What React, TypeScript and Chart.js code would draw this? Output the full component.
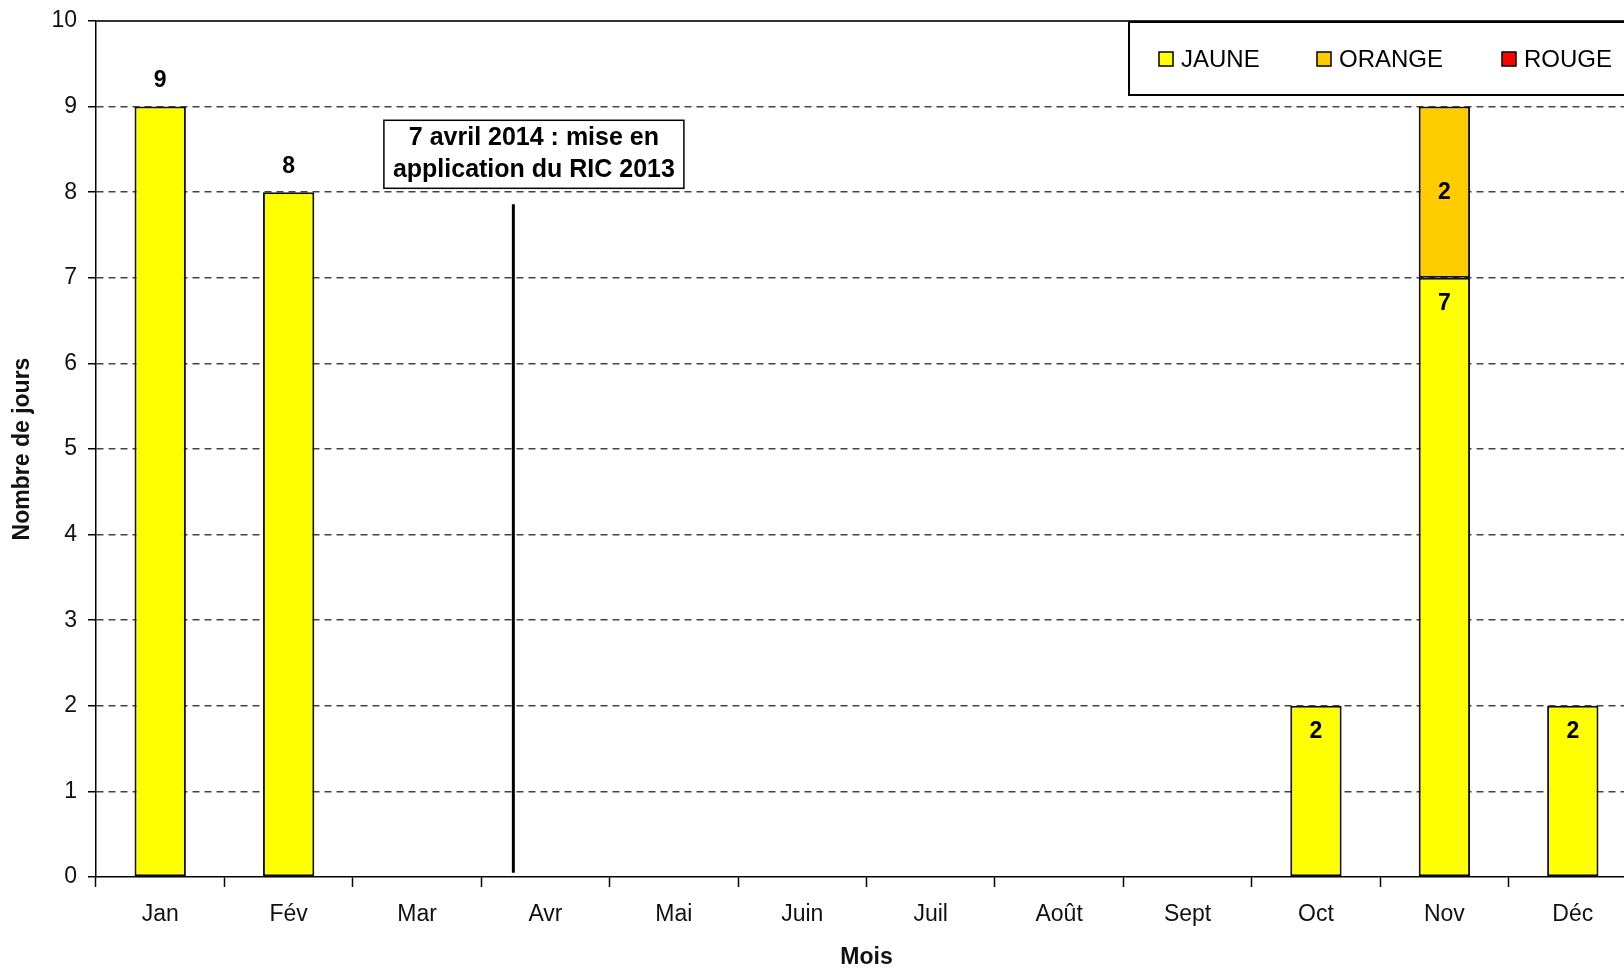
import React, { useEffect, useRef } from "react";
import { Chart, registerables } from "chart.js";

Chart.register(...registerables);

const months = ["Jan", "Fév", "Mar", "Avr", "Mai", "Juin", "Juil", "Août", "Sept", "Oct", "Nov", "Déc"];
const jaune = [9, 8, 0, 0, 0, 0, 0, 0, 0, 2, 7, 2];
const orange = [0, 0, 0, 0, 0, 0, 0, 0, 0, 0, 2, 0];
const rouge = [0, 0, 0, 0, 0, 0, 0, 0, 0, 0, 0, 0];
const labelsAboveMonths = ["Jan", "Fév"];
const yTicks = [0, 1, 2, 3, 4, 5, 6, 7, 8, 9, 10];

const annotationLines = ["7 avril 2014 : mise en", "application du RIC 2013"];
const markerX = 2.75; // 7 April within category axis
const markerYTop = 7.86;
const markerYBottom = 0.05;
const annotationCenterX = 2.91;
const annotationTopY = 8.84;

const seriesNames = ["JAUNE", "ORANGE", "ROUGE"];
const seriesColors = ["#FFFF00", "#FFCC00", "#FF0000"];

const FONT = "Arial, 'Liberation Sans', sans-serif";

const overlayPlugin = {
  id: "overlay",
  afterDatasetsDraw(chart: any) {
    const ctx = chart.ctx;
    const x = chart.scales.x;
    const y = chart.scales.y;
    const area = chart.chartArea;

    // top border of plot area
    ctx.save();
    ctx.strokeStyle = "#333";
    ctx.lineWidth = 2;
    ctx.beginPath();
    ctx.moveTo(area.left, area.top);
    ctx.lineTo(area.right, area.top);
    ctx.stroke();

    // data labels
    ctx.fillStyle = "#000";
    ctx.font = `bold 23px ${FONT}`;
    ctx.textAlign = "center";
    ctx.textBaseline = "middle";
    chart.data.datasets.forEach((ds: any, di: number) => {
      const meta = chart.getDatasetMeta(di);
      meta.data.forEach((el: any, i: number) => {
        const v = ds.data[i];
        if (!v) return;
        let ly;
        if (di === 0) {
          ly = labelsAboveMonths.includes(months[i]) ? el.y - 26 : el.y + 26;
        } else {
          ly = (el.y + el.base) / 2;
        }
        ctx.fillText(String(v), el.x, ly);
      });
    });

    // vertical marker line
    const mx = x.getPixelForValue(markerX);
    ctx.strokeStyle = "#000";
    ctx.lineWidth = 3;
    ctx.beginPath();
    ctx.moveTo(mx, y.getPixelForValue(markerYTop));
    ctx.lineTo(mx, y.getPixelForValue(markerYBottom));
    ctx.stroke();

    // annotation box
    ctx.font = `bold 25px ${FONT}`;
    const tw = Math.max(...annotationLines.map((l) => ctx.measureText(l).width));
    const bw = tw + 18;
    const bh = 68;
    const cx = x.getPixelForValue(annotationCenterX);
    const top = y.getPixelForValue(annotationTopY);
    ctx.fillStyle = "#fff";
    ctx.fillRect(cx - bw / 2, top, bw, bh);
    ctx.strokeStyle = "#000";
    ctx.lineWidth = 1.5;
    ctx.strokeRect(cx - bw / 2, top, bw, bh);
    ctx.fillStyle = "#000";
    annotationLines.forEach((l, i) => {
      ctx.fillText(l, cx, top + 18 + i * 32);
    });

    // legend
    const lx = 1129;
    const ly0 = area.top + 1;
    ctx.fillStyle = "#fff";
    ctx.fillRect(lx, ly0, chart.width - lx + 10, 73);
    ctx.strokeStyle = "#000";
    ctx.lineWidth = 2;
    ctx.strokeRect(lx, ly0, chart.width - lx + 10, 73);
    const itemX = [1159, 1317, 1502];
    ctx.font = `24px ${FONT}`;
    ctx.textAlign = "left";
    seriesNames.forEach((n, i) => {
      const sx = itemX[i];
      const cy = ly0 + 37;
      ctx.fillStyle = seriesColors[i];
      ctx.fillRect(sx, cy - 7, 14, 14);
      ctx.strokeStyle = "#000";
      ctx.lineWidth = 1.5;
      ctx.strokeRect(sx, cy - 7, 14, 14);
      ctx.fillStyle = "#000";
      ctx.fillText(n, sx + 22, cy + 1);
    });
    ctx.restore();
  },
};

export default function App() {
  const ref = useRef<HTMLCanvasElement | null>(null);

  useEffect(() => {
    if (!ref.current) return;
    const datasets = [jaune, orange, rouge].map((d, i) => ({
      label: seriesNames[i],
      data: d,
      backgroundColor: seriesColors[i],
      borderColor: "#111",
      borderWidth: 2,
      borderSkipped: false as any,
      categoryPercentage: 1,
      barPercentage: 0.4,
    }));
    const chart = new Chart(ref.current, {
      type: "bar",
      data: { labels: months, datasets },
      options: {
        animation: false,
        responsive: false,
        devicePixelRatio: 1,
        layout: { padding: { top: 21, right: 43, left: 0, bottom: 0 } },
        plugins: { legend: { display: false }, tooltip: { enabled: false } },
        scales: {
          x: {
            stacked: true,
            grid: {
              drawOnChartArea: false,
              drawTicks: true,
              tickLength: 10,
              tickColor: "#000",
              tickWidth: 1.5,
            },
            border: { display: true, color: "#000", width: 1.5 },
            ticks: {
              color: "#111",
              font: { family: FONT, size: 23 },
              padding: 14,
              maxRotation: 0,
              autoSkip: false,
            },
            title: {
              display: true,
              text: "Mois",
              color: "#111",
              font: { family: FONT, size: 23, weight: "bold", lineHeight: 1.1 },
              padding: { top: 0, bottom: 0 },
            },
            afterFit: (s: any) => {
              s.height = 93;
              s.paddingLeft = 0;
              s.paddingRight = 0;
            },
          },
          y: {
            stacked: true,
            min: 0,
            max: 10,
            afterBuildTicks: (s: any) => {
              s.ticks = yTicks.map((v) => ({ value: v }));
            },
            grid: {
              color: (c: any) =>
                c.tick && (c.tick.value === 0 || c.tick.value === 10) ? "rgba(0,0,0,0)" : "#444",
              lineWidth: 1.5,
              tickColor: "#000",
              tickLength: 8,
              tickWidth: 1.5,
              tickBorderDash: [],
            } as any,
            border: { display: true, color: "#000", width: 1.5, dash: [7, 5] },
            ticks: {
              color: "#111",
              font: { family: FONT, size: 23 },
              padding: 11,
            },
            title: {
              display: true,
              text: "Nombre de jours",
              color: "#111",
              font: { family: FONT, size: 23, weight: "bold" },
              padding: { top: 9, bottom: 0 },
            },
            afterFit: (s: any) => {
              s.width = 96;
              s.paddingTop = 0;
              s.paddingBottom = 0;
            },
          },
        },
      },
      plugins: [overlayPlugin],
    });
    return () => chart.destroy();
  }, []);

  return (
    <div
      style={{
        position: "fixed",
        left: 0,
        top: 0,
        width: 1624,
        height: 970,
        overflow: "hidden",
        background: "#fff",
      }}
    >
      <canvas ref={ref} width={1680} height={970} style={{ width: 1680, height: 970, display: "block" }} />
    </div>
  );
}
